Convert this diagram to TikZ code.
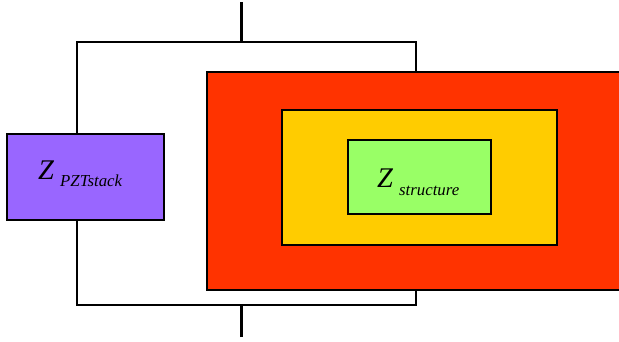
\documentclass[tikz,border=0pt]{standalone}
\usepackage{fontspec}
\setmainfont{Liberation Serif}
\definecolor{pztc}{HTML}{9966FF}
\definecolor{redc}{HTML}{FF3300}
\definecolor{yelc}{HTML}{FFCC00}
\definecolor{grnc}{HTML}{99FF66}
\begin{document}
\begin{tikzpicture}[x=1pt,y=-1pt,
  wire/.style={draw=black,line width=2.2pt},
  boxst/.style={draw=black,line width=1.5pt,inner sep=0pt,outer sep=0pt},
  bigz/.style={inner sep=0pt,anchor=base west,font=\fontsize{28.5}{30}\selectfont\itshape},
  subz/.style={inner sep=0pt,anchor=base west,font=\fontsize{16.8}{18}\selectfont\itshape}]
\useasboundingbox (0,0) rectangle (619,341);
\clip (0,0) rectangle (619,341);
\fill[white] (0,0) rectangle (619,341);
\coordinate (topend) at (241.5,2);
\coordinate (botend) at (241.5,337);
\coordinate (tl) at (77,42);
\coordinate (tr) at (416,42);
\coordinate (bl) at (77,305);
\coordinate (br) at (416,305);
\node[boxst,fill=pztc,minimum width=157pt,minimum height=86pt] (pzt) at (85.5,177) {};
\node[boxst,fill=redc,minimum width=418pt,minimum height=218pt] (red) at (416,181) {};
\node[boxst,fill=yelc,minimum width=275pt,minimum height=135pt] (yel) at (419.5,177.5) {};
\node[boxst,fill=grnc,minimum width=143pt,minimum height=74pt] (grn) at (419.5,177) {};
\draw[wire] (topend) -- (topend |- tl);
\draw[wire] (pzt.north -| tl) -- (tl) -- (tr) -- (tr |- red.north);
\draw[wire] (pzt.south -| bl) -- (bl) -- (br) -- (br |- red.south);
\draw[wire] (botend) -- (botend |- bl);
\node[bigz] (z1) at (38,179.5) {Z};
\node[subz] (s1) at (60,186) {PZTstack};
\node[bigz] (z2) at (377,187.5) {Z};
\node[subz] (s2) at (399,195) {structure};
\end{tikzpicture}
\end{document}
